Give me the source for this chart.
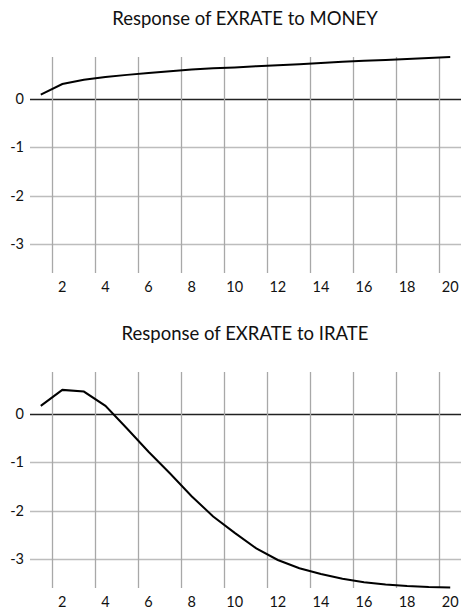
<!DOCTYPE html>
<html>
<head>
<meta charset="utf-8">
<script src="https://cdn.jsdelivr.net/npm/d3@7"></script>
<style>
  body { margin: 0; background: #fff; }
  svg { display: block; font-family: Lato, "Open Sans", sans-serif; }
</style>
</head>
<body>
<script>
const width = 463;
const height = 612;

// impulse response horizon
const periods = [1, 2, 3, 4, 5, 6, 7, 8, 9, 10, 11, 12, 13, 14, 15, 16, 17, 18, 19, 20];
const xTickLabels = [2, 4, 6, 8, 10, 12, 14, 16, 18, 20];
const yTicks = [0, -1, -2, -3];

const moneyResponse = [0.09, 0.31, 0.40, 0.455, 0.50, 0.54, 0.575, 0.61, 0.635, 0.655,
  0.68, 0.70, 0.72, 0.745, 0.77, 0.79, 0.81, 0.83, 0.85, 0.87];
const irateResponse = [0.17, 0.50, 0.465, 0.17, -0.30, -0.78, -1.23, -1.70, -2.12, -2.46,
  -2.78, -3.02, -3.19, -3.31, -3.41, -3.48, -3.53, -3.56, -3.58, -3.59];

const panels = [
  { title: "Response of EXRATE to MONEY", values: moneyResponse, top: 0 },
  { title: "Response of EXRATE to IRATE", values: irateResponse, top: 315 }
];

const margin = { top: 57, left: 30, right: 2 };
const plotHeight = 216;

const svg = d3
  .select("body")
  .append("svg")
  .attr("width", width)
  .attr("height", height);

const x = d3
  .scaleBand()
  .domain(periods)
  .range([margin.left, width - margin.right])
  .padding(0);

panels.forEach((p) => {
  const g = svg.append("g").attr("transform", `translate(0, ${p.top})`);

  const y = d3
    .scaleLinear()
    .domain([-3.6, 0.87])
    .range([margin.top + plotHeight, margin.top]);

  g.append("text")
    .attr("x", 245)
    .attr("y", 25)
    .attr("text-anchor", "middle")
    .style("font-size", "18.5px")
    .style("fill", "#111")
    .text(p.title);

  // horizontal grid lines (zero line drawn darker)
  g.append("g")
    .selectAll("line")
    .data(yTicks)
    .enter()
    .append("line")
    .attr("x1", margin.left)
    .attr("x2", width - margin.right)
    .attr("y1", (d) => Math.round(y(d)) + 0.5)
    .attr("y2", (d) => Math.round(y(d)) + 0.5)
    .attr("stroke", (d) => (d === 0 ? "#222" : "#bdbdbd"))
    .attr("stroke-width", (d) => (d === 0 ? 1.3 : 1.5));

  // vertical grid lines at band boundaries
  g.append("g")
    .selectAll("line")
    .data(xTickLabels)
    .enter()
    .append("line")
    .attr("x1", (d) => Math.round(x(d)) + 0.5)
    .attr("x2", (d) => Math.round(x(d)) + 0.5)
    .attr("y1", margin.top)
    .attr("y2", margin.top + plotHeight)
    .attr("stroke", "#a8a8a8")
    .attr("stroke-width", 1.3);

  g.append("g")
    .selectAll("text")
    .data(yTicks)
    .enter()
    .append("text")
    .attr("x", 24)
    .attr("y", (d) => y(d) + 5)
    .attr("text-anchor", "end")
    .style("font-size", "14.5px")
    .style("fill", "#111")
    .text((d) => d);

  g.append("g")
    .selectAll("text")
    .data(xTickLabels)
    .enter()
    .append("text")
    .attr("x", (d) => x(d) + x.bandwidth() / 2)
    .attr("y", margin.top + plotHeight + 19)
    .attr("text-anchor", "middle")
    .style("font-size", "14.5px")
    .style("fill", "#111")
    .text((d) => d);

  const line = d3
    .line()
    .x((d, i) => x(periods[i]) + x.bandwidth() / 2)
    .y((d) => y(d));

  g.append("path")
    .datum(p.values)
    .attr("d", line)
    .attr("fill", "none")
    .attr("stroke", "#000")
    .attr("stroke-width", 2);
});
</script>
</body>
</html>
